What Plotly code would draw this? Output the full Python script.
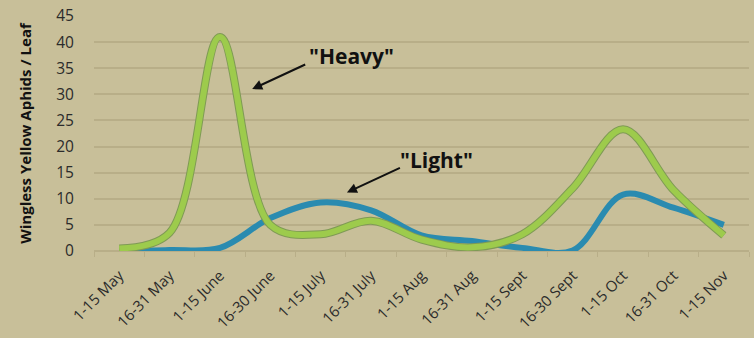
import plotly.graph_objects as go

periods = ["1-15 May", "16-31 May", "1-15 June", "16-30 June", "1-15 July",
           "16-31 July", "1-15 Aug", "16-31 Aug", "1-15 Sept", "16-30 Sept",
           "1-15 Oct", "16-31 Oct", "1-15 Nov"]
heavy = [0.5, 3.5, 41, 5, 3.2, 5.8, 2.2, 0.7, 3.2, 12, 23.3, 11.7, 3]
light = [0, 0.2, 0.6, 6.3, 9.3, 7.8, 3.0, 1.9, 0.6, 0.1, 10.8, 8.3, 5]
y_ticks = [0, 5, 10, 15, 20, 25, 30, 35, 40, 45]

BG = "#c8bf99"
GRID = "#b8ae88"
TXT = "#2b2b2b"

fig = go.Figure()
fig.add_trace(go.Scatter(x=periods, y=light, mode="lines", name="Light",
                         line=dict(color="#2a8bb0", width=6, shape="spline", smoothing=1.0),
                         showlegend=False, hoverinfo="skip"))
fig.add_trace(go.Scatter(x=periods, y=heavy, mode="lines", name="Heavy outline",
                         line=dict(color="#7f9a55", width=8, shape="spline", smoothing=1.0),
                         showlegend=False, hoverinfo="skip"))
fig.add_trace(go.Scatter(x=periods, y=heavy, mode="lines", name="Heavy",
                         line=dict(color="#9dcb4c", width=6, shape="spline", smoothing=1.0),
                         showlegend=False))

arrow = dict(showarrow=True, arrowhead=2, arrowsize=1, arrowwidth=2,
             arrowcolor="#111111", ax=56, ay=-26, text=" ")
fig.add_annotation(x=2.64, y=31.0, **arrow)
fig.add_annotation(x=4.52, y=11.2, **arrow)
fig.add_annotation(x=4.62, y=37.3, text='<b>"Heavy"</b>', showarrow=False,
                   font=dict(family="Open Sans", size=21, color="#111111"))
fig.add_annotation(x=6.3, y=17.4, text='<b>"Light"</b>', showarrow=False,
                   font=dict(family="Open Sans", size=21, color="#111111"))

fig.update_layout(
    width=754, height=338,
    margin=dict(l=94, r=5, t=16, b=87),
    paper_bgcolor=BG, plot_bgcolor=BG,
    font=dict(family="Open Sans", color=TXT),
    showlegend=False,
)
fig.update_xaxes(type="category", range=[-0.5, 12.5], tickangle=-45, automargin=False,
                 ticks="outside", tickson="boundaries", ticklen=5, tickcolor=GRID,
                 ticklabelstandoff=12,
                 showgrid=False, showline=False, zeroline=False,
                 tickfont=dict(size=15, color=TXT))
fig.update_yaxes(range=[0, 45], tickvals=y_ticks, showgrid=True, gridcolor=GRID,
                 gridwidth=1.5, zeroline=True, zerolinecolor=GRID, zerolinewidth=1.5,
                 automargin=False,
                 ticks="outside", ticklen=16, tickcolor="rgba(0,0,0,0)",
                 tickfont=dict(size=15.5, color=TXT),
                 title=dict(text="<b>Wingless Yellow Aphids / Leaf</b>", standoff=20,
                            font=dict(size=15, color="#111111")))

fig.write_html("out.html", config={"displayModeBar": False},
               post_script="document.body.style.margin='0';document.body.style.background='" + BG + "';")
